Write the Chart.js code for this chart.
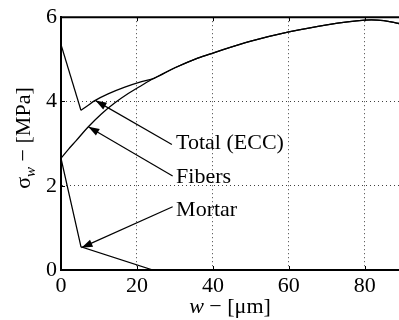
<!DOCTYPE html>
<html><head><meta charset="utf-8">
<script src="https://cdn.jsdelivr.net/npm/chart.js@4/dist/chart.umd.min.js"></script>
<style>html,body{margin:0;padding:0;background:#fff;overflow:hidden}#wrap{width:399px;height:320px}</style>
</head><body><div id="wrap"><canvas id="c"></canvas></div>
<script>
// Data (w in µm, sigma in MPa)
const fibersW = [0, 2, 4, 7.2, 10.7, 14.2, 17.7, 21.2, 24.5, 30, 36, 40, 50, 60, 70, 80, 85, 89];
const fibersS = [2.65, 2.87, 3.07, 3.40, 3.71, 3.97, 4.19, 4.38, 4.55, 4.80, 5.03, 5.15, 5.43, 5.65, 5.82, 5.93, 5.92, 5.85];
const totalW = [0, 5.26, 7, 8.9, 12.4, 16.8, 21.2, 24.5, 30, 36, 40, 50, 60, 70, 80, 85, 89];
const totalS = [5.35, 3.79, 3.90, 4.02, 4.18, 4.34, 4.47, 4.55, 4.80, 5.03, 5.15, 5.43, 5.65, 5.82, 5.93, 5.92, 5.85];
const mortarW = [0, 5.26, 24.2];
const mortarS = [2.65, 0.55, 0];
const xTicks = [0, 20, 40, 60, 80];
const yTicks = [0, 2, 4, 6];
// annotations
const annLabels = ['Total (ECC)', 'Fibers', 'Mortar'];
const annTip = [[9.1, 4.02], [7.2, 3.40], [5.4, 0.53]];
const annTail = [[29.2, 2.98], [29.4, 2.23], [29.4, 1.50]];
const annText = [[30.3, 2.86], [30.3, 2.06], [30.3, 1.29]];

const pts = (xs, ys) => xs.map((x, i) => ({x: x, y: ys[i]}));
const FONT = '"Liberation Serif", "Times New Roman", serif';

const base = {showLine: true, borderColor: '#000', borderWidth: 1.3, pointRadius: 0, fill: false};
const datasets = [
  Object.assign({label: 'Total (ECC)', data: pts(totalW.slice(0, 2), totalS.slice(0, 2)), tension: 0}, base),
  Object.assign({label: 'Total (ECC) ', data: pts(totalW.slice(1), totalS.slice(1)), tension: 0.35}, base),
  Object.assign({label: 'Fibers', data: pts(fibersW, fibersS), tension: 0.35}, base),
  Object.assign({label: 'Mortar', data: pts(mortarW, mortarS), tension: 0}, base)
];

const extras = {
  id: 'extras',
  afterDatasetsDraw(chart) {
    const {ctx, chartArea: a, scales: {x, y}} = chart;
    ctx.save();
    // top frame
    ctx.strokeStyle = '#000';
    ctx.lineWidth = 2;
    ctx.beginPath(); ctx.moveTo(a.left - 1, a.top); ctx.lineTo(a.right, a.top); ctx.stroke();
    // inner ticks
    ctx.lineWidth = 1;
    xTicks.forEach(v => {
      const px = Math.round(x.getPixelForValue(v)) + 0.5;
      ctx.beginPath(); ctx.moveTo(px, a.bottom); ctx.lineTo(px, a.bottom - 4);
      ctx.moveTo(px, a.top); ctx.lineTo(px, a.top + 4); ctx.stroke();
    });
    yTicks.forEach(v => {
      const py = Math.round(y.getPixelForValue(v)) + 0.5;
      ctx.beginPath(); ctx.moveTo(a.left, py); ctx.lineTo(a.left + 4, py); ctx.stroke();
    });
    // annotations
    ctx.fillStyle = '#000';
    ctx.font = '22px ' + FONT;
    ctx.textAlign = 'left';
    ctx.textBaseline = 'alphabetic';
    annLabels.forEach((t, i) => {
      const tx = x.getPixelForValue(annTail[i][0]), ty = y.getPixelForValue(annTail[i][1]);
      const hx = x.getPixelForValue(annTip[i][0]), hy = y.getPixelForValue(annTip[i][1]);
      ctx.lineWidth = 1.2;
      ctx.beginPath(); ctx.moveTo(tx, ty); ctx.lineTo(hx, hy); ctx.stroke();
      const ang = Math.atan2(hy - ty, hx - tx);
      const L = 11, W = 3.8;
      ctx.beginPath();
      ctx.moveTo(hx, hy);
      ctx.lineTo(hx - L * Math.cos(ang) + W * Math.sin(ang), hy - L * Math.sin(ang) - W * Math.cos(ang));
      ctx.lineTo(hx - L * Math.cos(ang) - W * Math.sin(ang), hy - L * Math.sin(ang) + W * Math.cos(ang));
      ctx.closePath(); ctx.fill();
      ctx.fillText(t, x.getPixelForValue(annText[i][0]), y.getPixelForValue(annText[i][1]));
    });
    ctx.restore();
  },
  afterDraw(chart) {
    const {ctx, chartArea: a} = chart;
    ctx.save();
    ctx.fillStyle = '#000';
    ctx.textBaseline = 'alphabetic';
    ctx.textAlign = 'left';
    // x title: w – [µm]
    const fI = 'italic 22px ' + FONT, fR = '22px ' + FONT;
    ctx.font = fI; const w1 = ctx.measureText('w').width;
    ctx.font = fR; const w2 = ctx.measureText(' \u2212 [\u03bcm]').width;
    let sx = (a.left + a.right) / 2 - (w1 + w2) / 2;
    ctx.font = fI; ctx.fillText('w', sx, 313);
    ctx.font = fR; ctx.fillText(' \u2212 [\u03bcm]', sx + w1, 313);
    // y title: σ_w – [MPa]
    ctx.translate(30, 138);
    ctx.rotate(-Math.PI / 2);
    const fS = 'italic 15px ' + FONT;
    ctx.font = fR; const s1 = ctx.measureText('\u03c3').width;
    ctx.font = fS; const s2 = ctx.measureText('w').width;
    ctx.font = fR; const s3 = ctx.measureText(' \u2212 [MPa]').width;
    let sy = -(s1 + s2 + s3) / 2;
    ctx.font = fR; ctx.fillText('\u03c3', sy, 0);
    ctx.font = fS; ctx.fillText('w', sy + s1, 5);
    ctx.font = fR; ctx.fillText(' \u2212 [MPa]', sy + s1 + s2, 0);
    ctx.restore();
  }
};

new Chart(document.getElementById('c'), {
  type: 'scatter',
  data: {datasets: datasets},
  plugins: [extras],
  options: {
    responsive: true,
    maintainAspectRatio: false,
    animation: false,
    layout: {padding: {top: 14, right: 0, left: 0, bottom: 0}},
    plugins: {legend: {display: false}, tooltip: {enabled: false}},
    scales: {
      x: {
        type: 'linear', min: 0, max: 89,
        afterFit: s => { s.height = 50; },
        afterBuildTicks: s => { s.ticks = xTicks.map(v => ({value: v})); },
        ticks: {font: {family: FONT, size: 22}, color: '#000', padding: 3, maxRotation: 0, includeBounds: false},
        grid: {color: 'rgba(0,0,0,0.75)', lineWidth: 1, drawTicks: false},
        border: {display: true, color: '#000', width: 2, dash: [1, 3]}
      },
      y: {
        type: 'linear', min: 0, max: 6,
        afterFit: s => { s.width = 61; },
        afterBuildTicks: s => { s.ticks = yTicks.map(v => ({value: v})); },
        ticks: {font: {family: FONT, size: 22}, color: '#000', padding: 4},
        grid: {color: 'rgba(0,0,0,0.75)', lineWidth: 1, drawTicks: false},
        border: {display: true, color: '#000', width: 2, dash: [1, 3]}
      }
    }
  }
});
</script>
</body></html>
